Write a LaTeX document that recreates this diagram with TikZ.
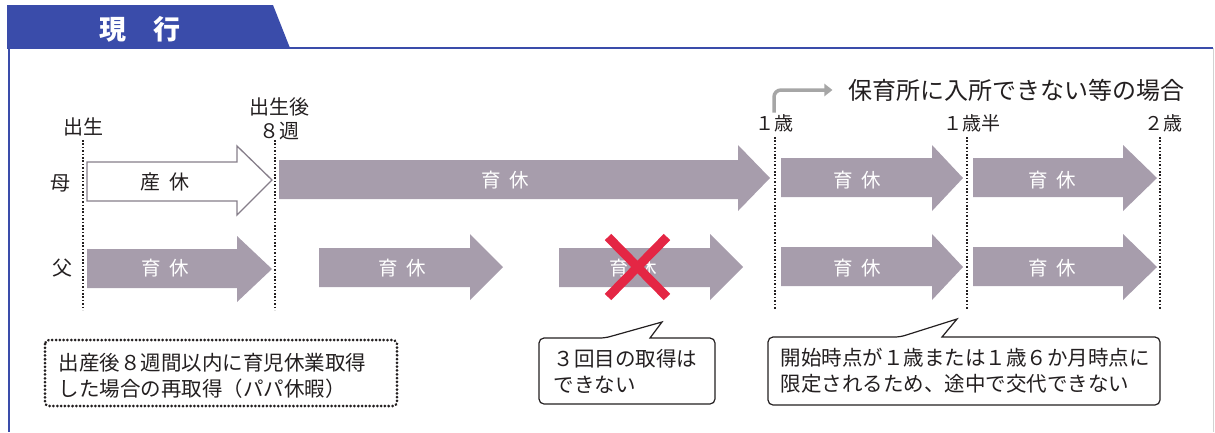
\documentclass[tikz,border=0pt]{standalone}
\usepackage{fontspec}
\setmainfont{Noto Sans CJK JP}
\usepackage{tikz}
\usetikzlibrary{arrows.meta}
\definecolor{tabblue}{RGB}{58,76,170}
\definecolor{leave}{RGB}{167,157,172}
\definecolor{crossred}{RGB}{228,38,68}
\definecolor{ink}{RGB}{35,31,32}

\begin{document}
\begin{tikzpicture}[x=1pt,y=-1pt,
	lbl/.style={text=ink,font=\fontsize{20}{24}\selectfont},
	small/.style={text=ink,font=\fontsize{19}{22}\selectfont},
	bartext/.style={text=white,font=\fontsize{19.5}{19.5}\selectfont},
	notetext/.style={text=ink,anchor=west,align=left,font=\fontsize{20.5}{26}\selectfont},
	leavebar/.style={fill=leave},
	matbar/.style={fill=white,draw=leave!80!black,line width=1.3},
	markline/.style={ink,line width=1.5,dash pattern=on 1.5pt off 1.9pt},
	frameline/.style={tabblue,line width=2},
	callout/.style={draw=ink,line width=1.2,fill=white},
	notebox/.style={draw=ink,line width=3,rounded corners=4,line cap=round,dash pattern=on 0.01pt off 3.8pt},
	cross/.style={crossred,line width=9},
	bent/.style={draw=gray!70,line width=3.5,rounded corners=7,-{Triangle[length=8,width=12]}}]
			\useasboundingbox (0,0) rectangle (1215,432);
			\fill[tabblue] (7,5)--(273,5)--(290,48)--(7,48)--cycle;
			\draw[frameline] (7,48)--(1213,48);
			\draw[frameline] (9,48)--(9,432);
			\draw[gray!35,line width=1] (1213,48)--(1213,432);
			\node[text=white,font=\fontsize{27}{27}\selectfont\bfseries] (current) at (140,29) {現　行};

			\node[lbl] (birth) at (83,127) {出生};
			\node[lbl,align=center] (week8) at (279,119) {出生後\\８週};
			\node[small] (oneyr) at (774,123) {１歳};
			\node[small] (onehalf) at (972,123) {１歳半};
			\node[small] (twoyr) at (1163,123) {２歳};
			\node[text=ink,font=\fontsize{24}{24}\selectfont] (nursery) at (1016,90) {保育所に入所できない等の場合};
			\draw[bent,shorten <=-2,shorten >=12] (oneyr.north) |- (nursery.west);
			\node[lbl] (mother) at (60,183) {母};
			\node[lbl] (father) at (62,268) {父};

			\draw[markline] (83,140)--(83,310);
			\draw[markline] (275,140)--(275,310);
			\draw[markline] (775,137)--(775,310);
			\draw[markline] (967,137)--(967,310);
			\draw[markline] (1160,137)--(1160,310);

			\draw[matbar] (87,162)--(237,162)--(237,146)--(272,180)--(237,215)--(237,201)--(87,201)--cycle;
			\node[lbl] (maternity) at (165,182) {産\hspace{9pt}休};
			\fill[leavebar] (279,160)--(738,160)--(738,145)--(770,178)--(738,211)--(738,199)--(279,199)--cycle;
			\node[bartext] (mleave1) at (505,180) {育\hspace{9pt}休};
			\fill[leavebar] (781,158)--(932,158)--(932,145)--(963,178)--(932,211)--(932,197)--(781,197)--cycle;
			\node[bartext] (mleave2) at (857,180) {育\hspace{9pt}休};
			\fill[leavebar] (973,158)--(1123,158)--(1123,145)--(1157,178)--(1123,211)--(1123,197)--(973,197)--cycle;
			\node[bartext] (mleave3) at (1052,180) {育\hspace{9pt}休};

			\fill[leavebar] (87,249)--(237,249)--(237,236)--(272,269)--(237,302)--(237,288)--(87,288)--cycle;
			\node[bartext] (fleave1) at (165,268) {育\hspace{9pt}休};
			\fill[leavebar] (319,248)--(470,248)--(470,234)--(503,267)--(470,300)--(470,287)--(319,287)--cycle;
			\node[bartext] (fleave2) at (402,268) {育\hspace{9pt}休};
			\fill[leavebar] (559,248)--(710,248)--(710,234)--(743,267)--(710,300)--(710,287)--(559,287)--cycle;
			\node[bartext] (fleave3) at (633,268) {育\hspace{9pt}休};
			\fill[leavebar] (781,247)--(932,247)--(932,234)--(963,267)--(932,300)--(932,286)--(781,286)--cycle;
			\node[bartext] (fleave4) at (857,268) {育\hspace{9pt}休};
			\fill[leavebar] (973,247)--(1123,247)--(1123,234)--(1157,267)--(1123,300)--(1123,286)--(973,286)--cycle;
			\node[bartext] (fleave5) at (1052,268) {育\hspace{9pt}休};
			\draw[cross] (608,237)--(667,297);
			\draw[cross] (667,237)--(608,297);

			\draw[notebox] (45,340) rectangle (397,406);
			\node[notetext] (papa) at (55,376) {出産後８週間以内に育児休業取得\\した場合の再取得（パパ休暇）};
			\draw[callout] (650,338) [rounded corners=5]--(715,338)--(715,404)--(539,404)--(539,338)--(605,338) [sharp corners]--(662,322)--cycle;
			\node[notetext] (third) at (550,371) {３回目の取得は\\できない};
			\draw[callout] (942,337) [rounded corners=5]--(1160,337)--(1160,405)--(768,405)--(768,337)--(900,337) [sharp corners]--(957,319)--cycle;
			\node[notetext] (switch) at (777,371) {開始時点が１歳または１歳６か月時点に\\限定されるため、途中で交代できない};
\end{tikzpicture}
\end{document}
